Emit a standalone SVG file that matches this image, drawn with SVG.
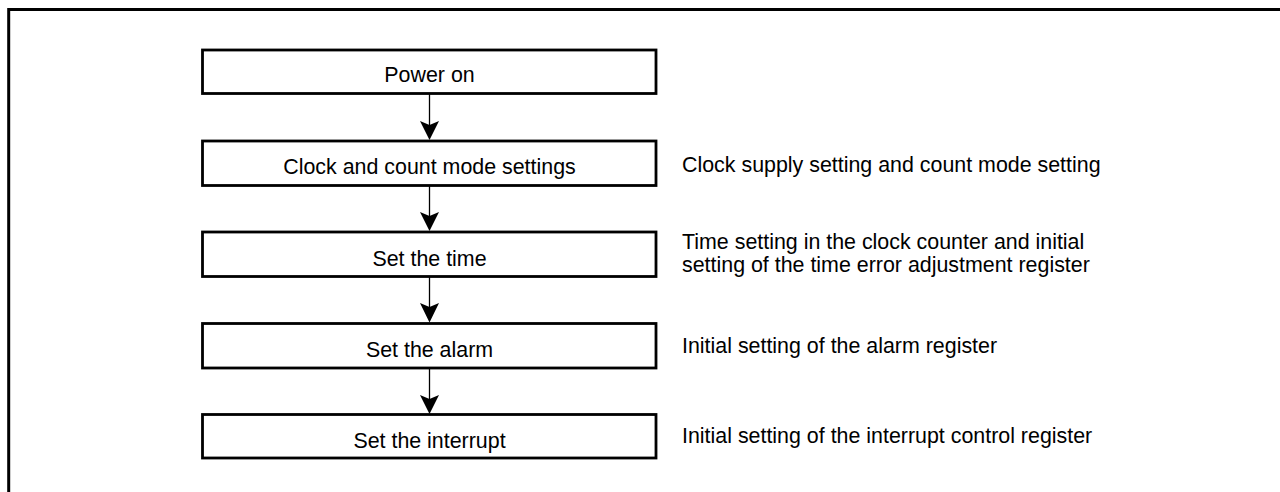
<svg xmlns="http://www.w3.org/2000/svg" width="1280" height="492" viewBox="0 0 1280 492">
<style>
.box{fill:#fff;stroke:#000;stroke-width:2.8}
.t{font-family:"Liberation Sans",Arial,sans-serif;font-size:21.4px;fill:#000}
.c{text-anchor:middle}
.ln{stroke:#000;stroke-width:1.3;fill:none}
.ah{fill:#000;stroke:none}
</style>
<rect width="1280" height="492" fill="#fff"/>
<path d="M8.7,492 V9.5 H1280" fill="none" stroke="#000" stroke-width="3"/>
<g id="connectors">
<line class="ln" x1="429.5" y1="94" x2="429.5" y2="125"/>
<path class="ah" d="M420,121 L429.5,125 L439,121 L429.5,140 Z"/>
<line class="ln" x1="429.5" y1="186" x2="429.5" y2="216"/>
<path class="ah" d="M420,212 L429.5,216 L439,212 L429.5,231 Z"/>
<line class="ln" x1="429.5" y1="277" x2="429.5" y2="307"/>
<path class="ah" d="M420,303 L429.5,307 L439,303 L429.5,322.5 Z"/>
<line class="ln" x1="429.5" y1="368" x2="429.5" y2="399"/>
<path class="ah" d="M420,395 L429.5,399 L439,395 L429.5,414 Z"/>
</g>
<g id="n1"><rect class="box" x="202.5" y="50" width="453.5" height="43.5"/><text class="t c" x="429.5" y="82">Power on</text></g>
<g id="n2"><rect class="box" x="202.5" y="141" width="453.5" height="44.5"/><text class="t c" x="429.5" y="174">Clock and count mode settings</text></g>
<g id="n3"><rect class="box" x="202.5" y="232" width="453.5" height="44.5"/><text class="t c" x="429.5" y="265.5">Set the time</text></g>
<g id="n4"><rect class="box" x="202.5" y="323.5" width="453.5" height="44.5"/><text class="t c" x="429.5" y="356.5">Set the alarm</text></g>
<g id="n5"><rect class="box" x="202.5" y="414.5" width="453.5" height="43.5"/><text class="t c" x="429.5" y="447.5">Set the interrupt</text></g>
<g id="labels">
<text class="t" x="682" y="172">Clock supply setting and count mode setting</text>
<text class="t" x="682" y="249">Time setting in the clock counter and initial</text>
<text class="t" x="682" y="272">setting of the time error adjustment register</text>
<text class="t" x="682" y="353">Initial setting of the alarm register</text>
<text class="t" x="682" y="443">Initial setting of the interrupt control register</text>
</g>
</svg>
